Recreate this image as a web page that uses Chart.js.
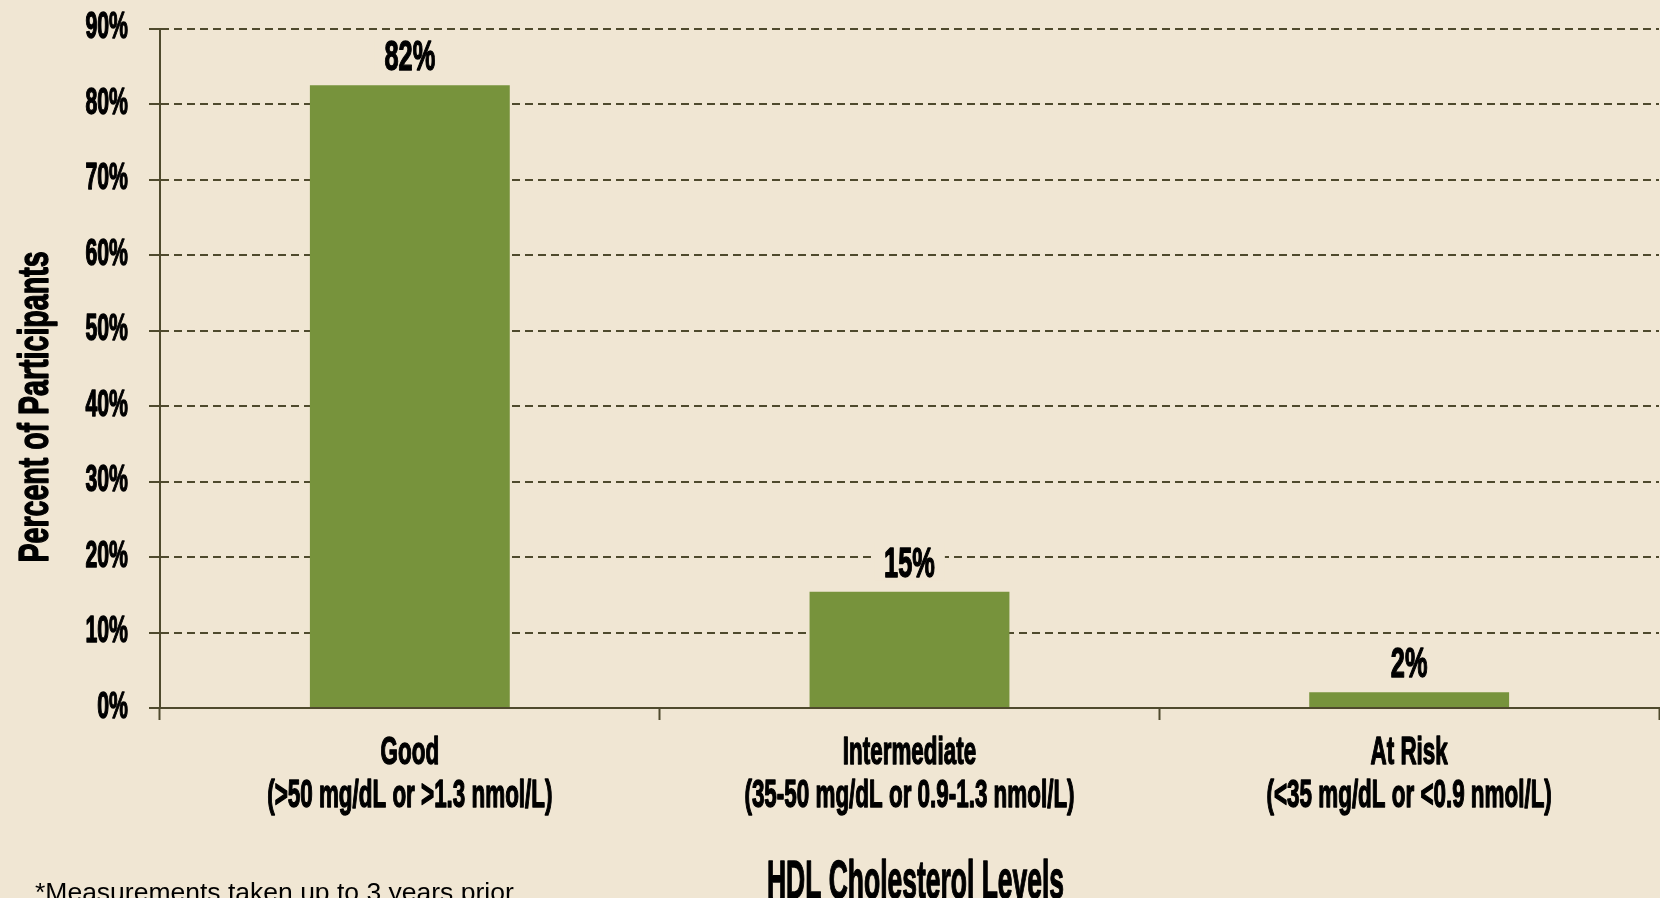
<!DOCTYPE html>
<html>
<head>
<meta charset="utf-8">
<script src="https://cdn.jsdelivr.net/npm/chart.js@4/dist/chart.umd.min.js"></script>
<style>
  html, body { margin: 0; padding: 0; background: #F0E6D3; }
  #c { display: block; }
</style>
</head>
<body>
<canvas id="c" width="1660" height="898"></canvas>
<script>
// ---- data ----
const categories = [
  ['Good', '(>50 mg/dL or >1.3 nmol/L)'],
  ['Intermediate', '(35-50 mg/dL or 0.9-1.3 nmol/L)'],
  ['At Risk', '(<35 mg/dL or <0.9 nmol/L)']
];
const values = [82.5, 15.4, 2.1];
const valueLabels = ['82%', '15%', '2%'];
const yMin = 0;
const yMax = 90;
const yStep = 10;
const yTitle = 'Percent of Participants';
const xTitle = 'HDL Cholesterol Levels';
const footnote = '*Measurements taken up to 3 years prior';

// ---- style ----
const BG = '#F0E6D3';
const BAR = '#77933C';
const LINE = '#4F4A2D';
const FAMILY = '"Liberation Sans", Arial, sans-serif';
const SX = 0.59;

const canvas = document.getElementById('c');
const ctx = canvas.getContext('2d');

// condensed rendering for the bold display font
const nativeFill = ctx.fillText;
const nativeMeasure = ctx.measureText;
function sxFor(c) {
  if (c.__sx != null) return c.__sx;
  return /bold|700/.test(c.font) ? SX : 1;
}
ctx.fillText = function (text, x, y) {
  const s = sxFor(this);
  if (s === 1) return nativeFill.call(this, text, x, y);
  this.save();
  this.translate(x, y);
  this.scale(s, 1);
  this.strokeStyle = this.fillStyle;
  this.lineWidth = 1.4;
  this.lineJoin = 'round';
  this.strokeText(text, 0, 0);
  nativeFill.call(this, text, 0, 0);
  this.restore();
};
ctx.measureText = function (text) {
  const m = nativeMeasure.call(this, text);
  const s = sxFor(this);
  if (s === 1) return m;
  return {
    width: m.width * s,
    actualBoundingBoxAscent: m.actualBoundingBoxAscent,
    actualBoundingBoxDescent: m.actualBoundingBoxDescent,
    actualBoundingBoxLeft: m.actualBoundingBoxLeft * s,
    actualBoundingBoxRight: m.actualBoundingBoxRight * s,
    fontBoundingBoxAscent: m.fontBoundingBoxAscent,
    fontBoundingBoxDescent: m.fontBoundingBoxDescent
  };
};

const backgroundPlugin = {
  id: 'bg',
  beforeDraw(chart) {
    const c = chart.ctx;
    c.save();
    c.fillStyle = BG;
    c.fillRect(0, 0, chart.width, chart.height);
    c.restore();
  }
};

const labelsPlugin = {
  id: 'valueLabels',
  afterDatasetsDraw(chart) {
    const c = chart.ctx;
    const meta = chart.getDatasetMeta(0);
    c.save();
    c.font = 'bold 43px ' + FAMILY;
    c.textAlign = 'center';
    c.textBaseline = 'alphabetic';
    meta.data.forEach((bar, i) => {
      const txt = valueLabels[i];
      const w = c.measureText(txt).width;
      const yb = bar.y - 15;
      c.fillStyle = BG;
      c.fillRect(bar.x - w / 2 - 10, yb - 34, w + 20, 38);
      c.fillStyle = '#000';
      c.fillText(txt, bar.x, yb);
    });
    c.restore();
  }
};

const titlesPlugin = {
  id: 'titles',
  afterDraw(chart) {
    const c = chart.ctx;
    const area = chart.chartArea;
    c.save();
    c.fillStyle = '#000';
    // x title
    c.font = 'bold 54px ' + FAMILY;
    c.textAlign = 'center';
    c.textBaseline = 'alphabetic';
    c.__sx = 0.49;
    c.fillText(xTitle, (area.left + area.right) / 2 + 6, 898);
    c.__sx = null;
    // y title
    c.save();
    c.translate(48, 407);
    c.rotate(-Math.PI / 2);
    c.font = 'bold 42px ' + FAMILY;
    c.__sx = 0.68;
    c.fillText(yTitle, 0, 0);
    c.__sx = null;
    c.restore();
    // footnote
    c.font = 'normal 26.5px ' + FAMILY;
    c.textAlign = 'left';
    c.fillText(footnote, 35, 901);
    c.restore();
  }
};

new Chart(ctx, {
  type: 'bar',
  data: {
    labels: categories,
    datasets: [{
      data: values,
      backgroundColor: BAR,
      borderWidth: 0,
      barPercentage: 0.4,
      categoryPercentage: 1.0
    }]
  },
  options: {
    responsive: false,
    animation: false,
    devicePixelRatio: 1,
    layout: { padding: { top: 28.5, right: 1, left: 0, bottom: 0 } },
    plugins: {
      legend: { display: false },
      tooltip: { enabled: false },
      title: { display: false }
    },
    scales: {
      x: {
        offset: true,
        grid: {
          display: true,
          offset: true,
          drawOnChartArea: false,
          drawTicks: true,
          tickLength: 12,
          tickColor: LINE,
          tickWidth: 2
        },
        border: { display: true, color: LINE, width: 2 },
        ticks: {
          color: '#000',
          font: { family: FAMILY, weight: 'bold', size: 38, lineHeight: 1.14 },
          padding: 12,
          maxRotation: 0,
          autoSkip: false
        },
        afterFit(scale) {
          scale.height = 190;
          scale.paddingLeft = 0;
          scale.paddingRight = 0;
        }
      },
      y: {
        min: yMin,
        max: yMax,
        ticks: {
          stepSize: yStep,
          callback: v => v + '%',
          color: '#000',
          font: { family: FAMILY, weight: 'bold', size: 36 },
          padding: 21
        },
        grid: {
          color: LINE,
          lineWidth: 2,
          drawTicks: true,
          tickLength: 11,
          tickColor: LINE,
          tickWidth: 2
        },
        border: { display: true, color: LINE, width: 2, dash: [8, 5] },
        afterFit(scale) {
          scale.width = 160;
          scale.paddingTop = 0;
          scale.paddingBottom = 0;
        }
      }
    }
  },
  plugins: [backgroundPlugin, labelsPlugin, titlesPlugin]
});
</script>
</body>
</html>
